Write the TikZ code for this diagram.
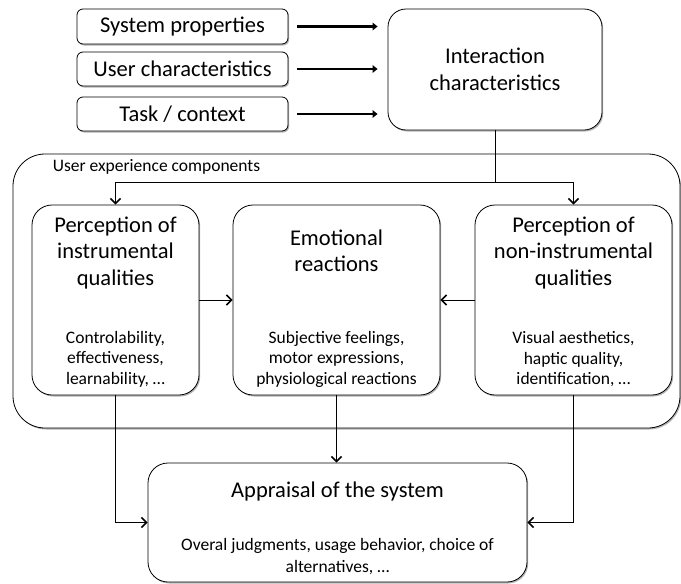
\documentclass[tikz,border=0pt]{standalone}
\usepackage{fontspec}
\setmainfont{Carlito}
\usetikzlibrary{arrows.meta,shadows,calc}

\begin{document}
\begin{tikzpicture}[x=1pt,y=-1pt,
  ubox/.style={draw, line width=0.8pt, fill=white, rounded corners=#1,
    inner sep=0pt,
    drop shadow={shadow xshift=1.2pt, shadow yshift=-1.5pt, opacity=0.3, fill=black}},
  ubox/.default=20pt,
  txttitle/.style={font=\fontsize{22.5}{26.5}\selectfont, align=center, inner sep=0pt},
  txtbody/.style={font=\fontsize{17.5}{20.5}\selectfont, align=center, inner sep=0pt},
  feed/.style={line width=2.4pt, -{Triangle[length=5pt,width=7.5pt]}},
  link/.style={line width=0.7pt},
  conn/.style={line width=0.7pt, -{Straight Barb[length=5pt,width=10pt,line width=1.6pt]}}
]
\useasboundingbox (0,0) rectangle (681,584);

% inputs
\node[ubox=6pt, minimum width=211pt, minimum height=35pt, txttitle] (sys) at (182.5,26.5) {System properties};
\node[ubox=6pt, minimum width=211pt, minimum height=34pt, txttitle] (usr) at (182.5,69) {User characteristics};
\node[ubox=6pt, minimum width=211pt, minimum height=34pt, txttitle] (task) at (182.5,114) {Task / context};

\node[ubox=18pt, minimum width=214pt, minimum height=121pt, txttitle] (inter) at (495,69.5) {Interaction\\characteristics};

\foreach \src in {sys,usr,task}
  \draw[feed] ($(\src.east)+(9,0)$) -- ($(\src.east -| inter.west)+(-10,0)$);

% user experience container
\node[ubox=32pt, minimum width=667pt, minimum height=274pt] (outer) at (346.5,291) {};
\node[txtbody, anchor=west] (uxlabel) at ($(outer.north west)+(40,13.5)$) {User experience components};

% components
\node[ubox, minimum width=167pt, minimum height=190pt] (left) at (115.5,300) {};
\node[ubox, minimum width=207pt, minimum height=190pt] (mid) at (336.5,300) {};
\node[ubox, minimum width=197pt, minimum height=190pt] (right) at (573.5,300) {};

\node[txttitle, anchor=north] (lefttitle) at ($(left.north)+(0,12)$) {Perception of\\instrumental\\qualities};
\node[txtbody, anchor=south] (leftbody) at ($(left.south)+(0,-8)$) {Controlability,\\effectiveness,\\learnability, …};

\node[txttitle, anchor=north] (midtitle) at ($(mid.north)+(0,25)$) {Emotional\\reactions};
\node[txtbody, anchor=south] (midbody) at ($(mid.south)+(0,-8)$) {Subjective feelings,\\motor expressions,\\physiological reactions};

\node[txttitle, anchor=north] (righttitle) at ($(right.north)+(0,12)$) {Perception of\\non-instrumental\\qualities};
\node[txtbody, anchor=south] (rightbody) at ($(right.south)+(0,-8)$) {Visual aesthetics,\\haptic quality,\\identification, …};

% appraisal
\node[ubox, minimum width=379pt, minimum height=119pt] (appr) at (337.5,522.5) {};
\node[txttitle, anchor=north] (apprtitle) at ($(appr.north)+(0,19)$) {Appraisal of the system};
\node[txtbody, anchor=south, font=\fontsize{17.5}{22.5}\selectfont] (apprbody) at ($(appr.south)+(0,-7)$) {Overal judgments, usage behavior, choice of\\alternatives, …};

% connectors
\draw[link] (inter.south) -- ++(0,52) coordinate (split);
\draw[conn] (split) -| (left.north);
\draw[conn] (split) -| (right.north);
\draw[conn] (left.east) -- (mid.west);
\draw[conn] (right.west) -- (mid.east);
\draw[conn] (mid.south) -- (mid.south |- appr.north);
\draw[conn] (left.south) |- (appr.west);
\draw[conn] (right.south) |- (appr.east);
\end{tikzpicture}
\end{document}
